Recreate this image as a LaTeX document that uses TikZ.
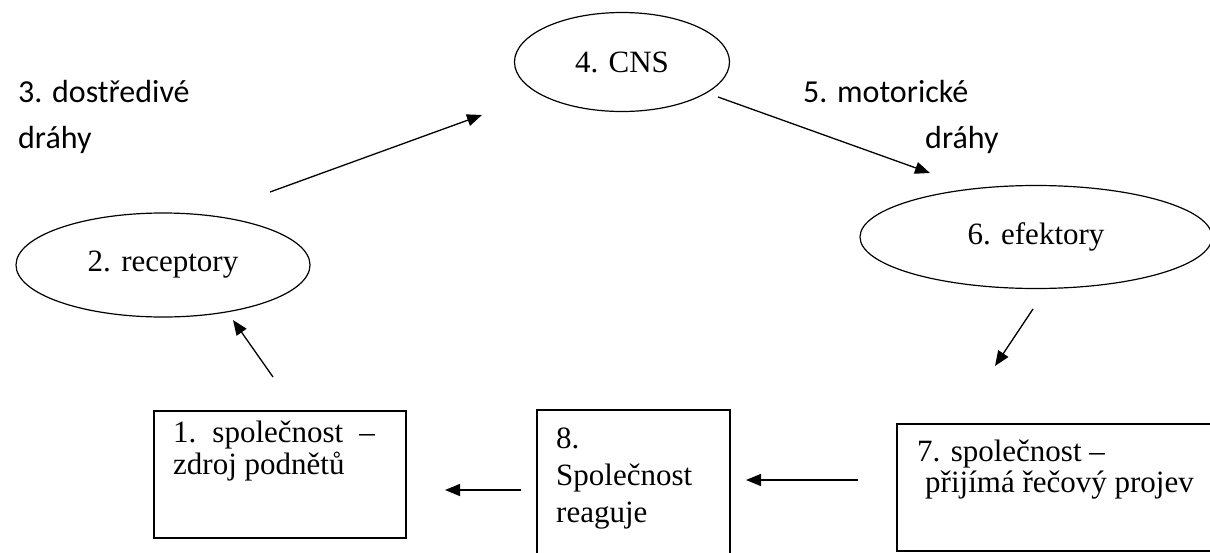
\documentclass[tikz,border=0pt]{standalone}
\usepackage{fontspec}
\setmainfont{Liberation Serif}
\newfontfamily\pathfont{Carlito}
\usetikzlibrary{arrows.meta,shapes.geometric}

\begin{document}
\begin{tikzpicture}[x=1pt,y=-1pt,
	organ/.style={draw, ellipse, line width=1.2pt, inner sep=0pt, font=\fontsize{31}{36}\selectfont},
	box/.style={draw, rectangle, line width=1.5pt, inner sep=0pt, anchor=north west},
	boxtext/.style={anchor=base west, align=left, inner sep=0pt},
	pathtext/.style={anchor=base west, align=left, inner sep=0pt, font=\pathfont\fontsize{32}{46}\selectfont},
	flow/.style={line width=1.3pt, -{Triangle[length=15pt,width=12pt]}}]

	\clip (0,0) rectangle (1210,552);

	\node[organ, minimum width=215, minimum height=99] (cns) at (622,62) {4. CNS};
	\node[organ, minimum width=294, minimum height=104] (receptory) at (163,265) {2. receptory};
	\node[organ, minimum width=352, minimum height=103] (efektory) at (1036,237) {6. efektory};

	\node[box, minimum width=252, minimum height=127] (soc1) at (153,410) {};
	\node[box, minimum width=193, minimum height=150] (soc8) at (536,409) {};
	\node[box, minimum width=330, minimum height=127] (soc7) at (896,423) {};

	% base west of a multi-line node is the last line
	\node[boxtext, font=\fontsize{31}{32}\selectfont] (soc1text) at ([shift={(20,64)}]soc1.north west) {1.\hspace{16pt}společnost\hspace{16pt}–\\zdroj podnětů};
	\node[boxtext, font=\fontsize{31}{37}\selectfont] (soc8text) at ([shift={(20,113)}]soc8.north west) {8.\\Společnost\\reaguje};
	\node[boxtext, font=\fontsize{31}{31}\selectfont] (soc7text) at ([shift={(21,69)}]soc7.north west) {7. společnost –\\\hspace*{8pt}přijímá řečový projev};

	\node[pathtext] (dostredive) at (18,148) {3. dostředivé\\dráhy};
	\node[pathtext] (motoricke) at (803,148) {5. motorické\\\hspace*{122pt}dráhy};

	\coordinate (s1) at (273,377);
	\coordinate (e1) at (233,320);
	\coordinate (s3) at (270,192);
	\coordinate (e3) at (482,115);
	\coordinate (s5) at (718,97);
	\coordinate (e5) at (930,173);
	\coordinate (s6) at (1033,309);
	\coordinate (e6) at (995,366);
	\coordinate (s7) at (858,480);
	\coordinate (e7) at (746,480);
	\coordinate (s8) at (521,490);
	\coordinate (e8) at (445,490);

	\draw[flow] (s1) -- (e1);
	\draw[flow] (s3) -- (e3);
	\draw[flow] (s5) -- (e5);
	\draw[flow] (s6) -- (e6);
	\draw[flow] (s7) -- (e7);
	\draw[flow] (s8) -- (e8);
\end{tikzpicture}
\end{document}
